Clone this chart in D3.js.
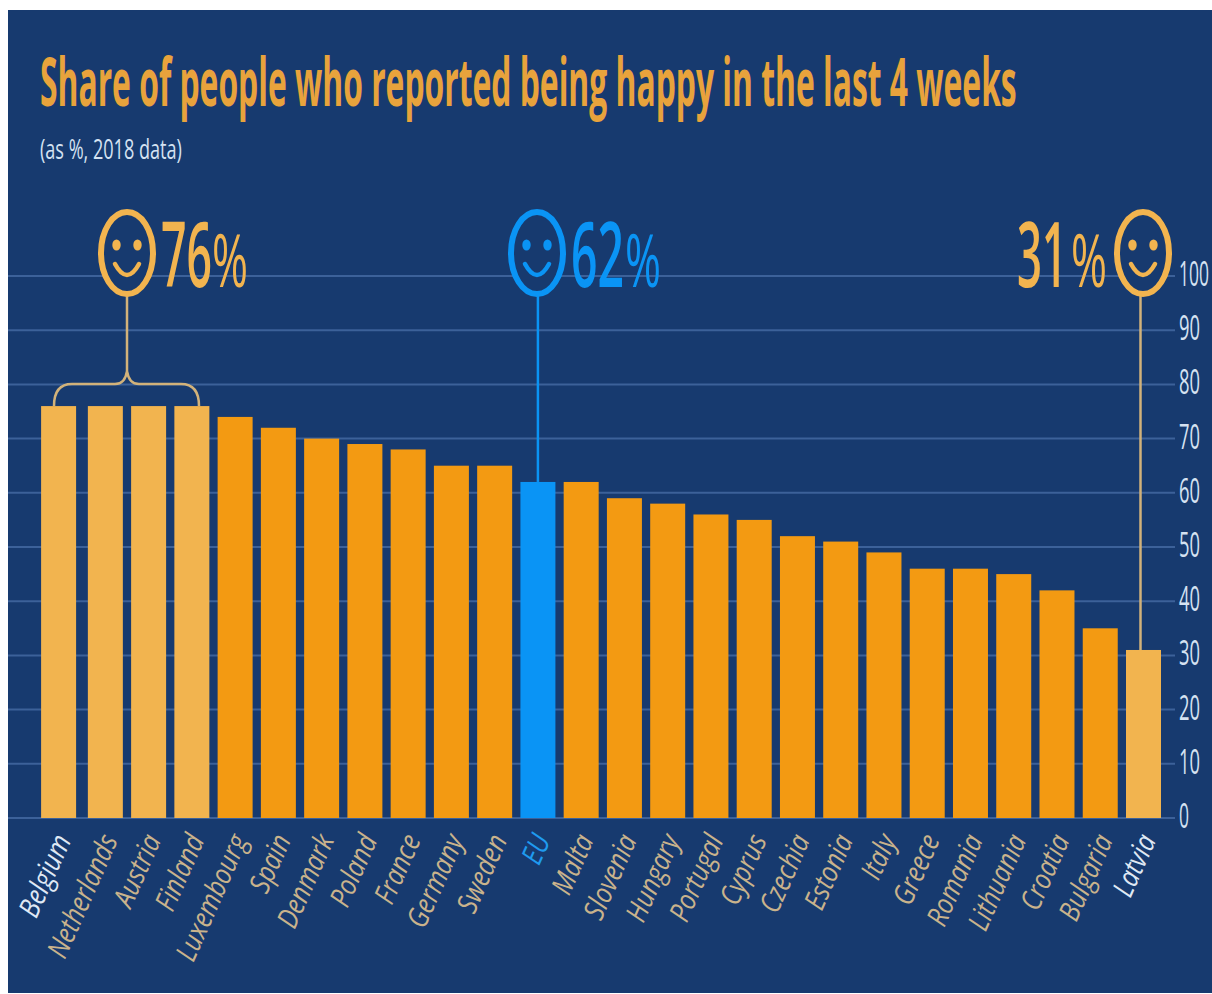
<!DOCTYPE html>
<html><head><meta charset="utf-8">
<script src="https://cdn.jsdelivr.net/npm/d3@7"></script>
<style>html,body{margin:0;padding:0;background:#fff}svg{display:block}text{font-family:"Open Sans",sans-serif}</style>
</head><body><svg id="c" width="1212" height="994"></svg>
<script>
const countries=["Belgium","Netherlands","Austria","Finland","Luxembourg","Spain","Denmark","Poland","France","Germany","Sweden","EU","Malta","Slovenia","Hungary","Portugal","Cyprus","Czechia","Estonia","Italy","Greece","Romania","Lithuania","Croatia","Bulgaria","Latvia"];
const happy=[76,76,76,76,74,72,70,69,68,65,65,62,62,59,58,56,55,52,51,49,46,46,45,42,35,31];
const yTicks=[0,10,20,30,40,50,60,70,80,90,100];
const titleText="Share of people who reported being happy in the last 4 weeks";
const subtitleText="(as %, 2018 data)";
const light=new Set(["Belgium","Netherlands","Austria","Finland","Latvia"]);
const NAVY="#173a6f",ORANGE="#f39a12",LIGHT="#f2b44f",BLUE="#0a94f5",GRID="#3c6199",TICK="#d5e2f2",LAB="#c9b38c",STEM="#d2b27a";

const svg=d3.select("#c");
svg.append("rect").attr("x",8).attr("y",10).attr("width",1204).attr("height",983).attr("fill",NAVY);
const y=d3.scaleLinear().domain([0,100]).range([818,276]);
const x=d3.scaleBand().domain(countries).range([44.6,1161]).paddingInner(8.26/43.26).paddingOuter(0);
const barX=d=>x(d)-(d==="Belgium"?3.5:0);
const cxOf=d=>barX(d)+x.bandwidth()/2;

// horizontally condensed text: measured, then scaled to the wanted width
function squeezed(px,py,w,size,weight,col,str){
  const t=svg.append("text").attr("font-size",size).attr("font-weight",weight).attr("fill",col).text(str);
  const k=w/t.node().getComputedTextLength();
  t.attr("transform",`translate(${px},${py}) scale(${k},1)`);
  return t;
}

// title
squeezed(40,106,977,66,700,"#e8a33c",titleText);
squeezed(40,159,142,28,400,"#d5e2f2",subtitleText);

// grid
svg.append("g").selectAll("line").data(yTicks).join("line")
  .attr("x1",8).attr("x2",1175).attr("y1",d=>y(d)).attr("y2",d=>y(d)).attr("stroke",GRID).attr("stroke-width",2);

// axis
const gy=svg.append("g").attr("transform","translate(1179,0)").call(d3.axisRight(y).tickValues(yTicks).tickSize(0).tickPadding(0));
gy.select(".domain").remove();
gy.selectAll("text").attr("font-size",34).attr("fill",TICK).attr("dy","0.28em").attr("x",0)
  .attr("transform",function(d){const w=d===100?30:d===0?10:21;return `scale(${w/this.getComputedTextLength()},1)`;});

// bars
svg.append("g").selectAll("rect").data(countries).join("rect")
  .attr("x",d=>barX(d)).attr("width",x.bandwidth())
  .attr("y",(d,i)=>y(happy[i])).attr("height",(d,i)=>y(0)-y(happy[i]))
  .attr("fill",d=>d==="EU"?BLUE:light.has(d)?LIGHT:ORANGE);

// country labels
svg.append("g").selectAll("text").data(countries).join("text")
  .text(d=>d)
  .attr("text-anchor","end").attr("font-size",29).attr("font-style","italic").attr("font-weight",500)
  .attr("fill",d=>d==="EU"?"#1f9bf0":(d==="Belgium"||d==="Latvia")?"#dfe8f4":LAB)
  .attr("transform",d=>`translate(${cxOf(d)+13},840) rotate(-66) scale(0.84,1)`);

// callouts
function smiley(cx,col){
  const g=svg.append("g").attr("transform",`translate(${cx},253)`).attr("fill","none").attr("stroke",col);
  g.append("ellipse").attr("rx",26).attr("ry",41).attr("stroke-width",6).attr("fill",NAVY);
  g.append("ellipse").attr("cx",-10.5).attr("cy",-8).attr("rx",4.2).attr("ry",5.5).attr("fill",col).attr("stroke","none");
  g.append("ellipse").attr("cx",10.5).attr("cy",-8).attr("rx",4.2).attr("ry",5.5).attr("fill",col).attr("stroke","none");
  g.append("path").attr("d","M-12,11 Q0,33 12,11").attr("stroke-width",4.5).attr("stroke-linecap","round");
}
function pct(num,xNum,wNum,xP,wP,col){
  squeezed(xNum,287,wNum,90,600,col,num);
  squeezed(xP,287,wP,74,400,col,"%");
}
const stemTop=y(100)+20, yb=y(76), yh=yb-22;
const mid=127, bL=54, bR=199;
svg.append("path").attr("fill","none").attr("stroke",STEM).attr("stroke-width",2.5)
  .attr("d",`M${bL},${yb} Q${bL},${yh} ${bL+18},${yh} L${mid-12},${yh} Q${mid-2},${yh} ${mid},${yh-13} L${mid},${stemTop} M${mid},${yh-13} Q${mid+2},${yh} ${mid+12},${yh} L${bR-18},${yh} Q${bR},${yh} ${bR},${yb}`);
smiley(mid,LIGHT);
pct("76",161,51,212,36,LIGHT);
svg.append("line").attr("x1",cxOf("EU")).attr("x2",cxOf("EU")).attr("y1",stemTop).attr("y2",y(62)).attr("stroke",BLUE).attr("stroke-width",2.5);
smiley(537,BLUE);
pct("62",571,53,625,36,BLUE);
svg.append("line").attr("x1",cxOf("Latvia")-3).attr("x2",cxOf("Latvia")-3).attr("y1",stemTop).attr("y2",y(31)).attr("stroke",STEM).attr("stroke-width",2.5);
smiley(1143,LIGHT);
pct("31",1017,50,1071,36,LIGHT);
</script></body></html>
